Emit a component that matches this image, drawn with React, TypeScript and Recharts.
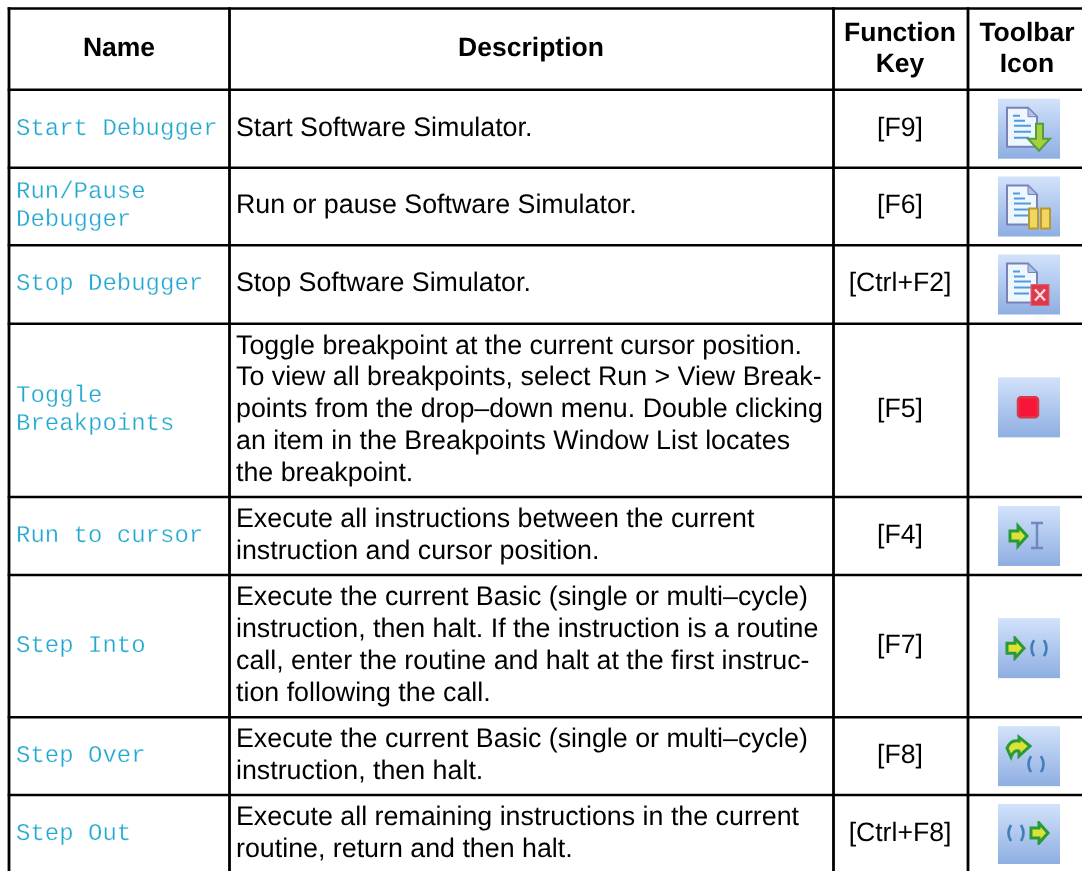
import { ComposedChart, ReferenceLine, Scatter, XAxis, YAxis } from "recharts"

const W = 1082
const H = 871

// column and row borders
const columnEdges = [9, 229.5, 833.5, 968]
const rowEdges = [8.5, 89.7, 167.7, 245.3, 323.7, 497, 575, 717.3, 795, 873]

const headers = [["Name"], ["Description"], ["Function", "Key"], ["Toolbar", "Icon"]]
const headerCentres = [119, 531, 900, 1027]

const names = [
  ["Start Debugger"],
  ["Run/Pause", "Debugger"],
  ["Stop Debugger"],
  ["Toggle", "Breakpoints"],
  ["Run to cursor"],
  ["Step Into"],
  ["Step Over"],
  ["Step Out"],
]

const descriptions = [
  ["Start Software Simulator."],
  ["Run or pause Software Simulator."],
  ["Stop Software Simulator."],
  [
    "Toggle breakpoint at the current cursor position.",
    "To view all breakpoints, select Run > View Break-",
    "points from the drop\u2013down menu. Double clicking",
    "an item in the Breakpoints Window List locates",
    "the breakpoint.",
  ],
  ["Execute all instructions between the current", "instruction and cursor position."],
  [
    "Execute the current Basic (single or multi\u2013cycle)",
    "instruction, then halt. If the instruction is a routine",
    "call, enter the routine and halt at the first instruc-",
    "tion following the call.",
  ],
  ["Execute the current Basic (single or multi\u2013cycle)", "instruction, then halt."],
  ["Execute all remaining instructions in the current", "routine, return and then halt."],
]

const functionKeys = ["[F9]", "[F6]", "[Ctrl+F2]", "[F5]", "[F4]", "[F7]", "[F8]", "[Ctrl+F8]"]
const toolbarIcons = ["start", "pause", "stop", "breakpoint", "cursor", "into", "over", "out"]
const iconNudge = [0, 0, 0, -3, 0, 2, 0, 0]

const rowMiddle = (i: number) => (rowEdges[i] + rowEdges[i + 1]) / 2

const headerData = headers.map((lines, i) => ({ x: headerCentres[i], y: rowMiddle(0), lines }))
const nameData = names.map((lines, i) => ({ x: 16, y: rowMiddle(i + 1), lines }))
const descriptionData = descriptions.map((lines, i) => ({ x: 236, y: rowMiddle(i + 1), lines }))
const keyData = functionKeys.map((key, i) => ({ x: 900, y: rowMiddle(i + 1), lines: [key] }))
const iconData = toolbarIcons.map((kind, i) => ({ x: 1029, y: rowMiddle(i + 1) + iconNudge[i], kind }))

const SANS = "'Liberation Sans', Arial, sans-serif"
const MONO = "'Liberation Mono', 'Courier New', monospace"

function textBlock(style: {
  family: string
  size: number
  leading: number
  fill: string
  weight?: number
  anchor?: string
  shift?: number
  thin?: number
}) {
  return (props: any) => {
    const lines: string[] = props.payload.lines
    const first = props.cy - ((lines.length - 1) * style.leading) / 2 + style.size * 0.35 + (style.shift ?? 0)
    return (
      <text
        x={props.cx}
        y={first}
        fontFamily={style.family}
        fontSize={style.size}
        fontWeight={style.weight ?? 400}
        fill={style.fill}
        stroke={style.thin ? "#fff" : "none"}
        strokeWidth={style.thin ?? 0}
        textAnchor={style.anchor ?? "start"}
        textRendering="geometricPrecision"
      >
        {lines.map((line, i) => (
          <tspan key={i} x={props.cx} y={first + i * style.leading}>
            {line}
          </tspan>
        ))}
      </text>
    )
  }
}

const Doc = () => (
  <g>
    <path d="M9 9 H30 L39 18 V48 H9 Z" fill="#eef6fe" stroke="#7a80b8" strokeWidth={2} />
    <path d="M30 9 V18 H39 Z" fill="#a8c4ec" stroke="#7a80b8" strokeWidth={1} />
    <path d="M15 17 H22 M16 22 H27 M16 27 H33 M16 33 H33 M16 39 H31" stroke="#4f9ae0" strokeWidth={2} />
  </g>
)

const ArrowRight = ({ x, y }: { x: number; y: number }) => (
  <path
    transform={`translate(${x} ${y})`}
    d="M0 -5 H8 V-10 L17 0 L8 10 V5 H0 Z"
    fill="#dce238"
    stroke="#2c9a38"
    strokeWidth={3}
  />
)

const Parens = ({ x, y }: { x: number; y: number }) => (
  <g transform={`translate(${x} ${y})`} fill="none" stroke="#3f7fb8" strokeWidth={2.6}>
    <path d="M-5 -8 Q-10 0 -5 8" />
    <path d="M5 -8 Q10 0 5 8" />
  </g>
)

function IconGlyph({ kind }: { kind: string }) {
  if (kind === "start")
    return (
      <g>
        <Doc />
        <path d="M38 25 H45 V40 H52 L41 52 L30 40 H38 Z" fill="#a8d038" stroke="#4f9e48" strokeWidth={2} />
      </g>
    )
  if (kind === "pause")
    return (
      <g>
        <Doc />
        <rect x={31} y={32} width={9} height={20} fill="#f0d860" stroke="#b89830" strokeWidth={2} />
        <rect x={43} y={32} width={9} height={20} fill="#f0d860" stroke="#b89830" strokeWidth={2} />
      </g>
    )
  if (kind === "stop")
    return (
      <g>
        <Doc />
        <rect x={33} y={30} width={18} height={21} fill="#e0384c" stroke="#d86070" strokeWidth={1} />
        <path d="M37 35 L47 46 M47 35 L37 46" stroke="#f8d8dc" strokeWidth={2.5} />
      </g>
    )
  if (kind === "breakpoint")
    return <rect x={20} y={20} width={20} height={20} rx={3} fill="#f81838" stroke="#d83848" strokeWidth={2.5} />
  if (kind === "cursor")
    return (
      <g>
        <ArrowRight x={12} y={30} />
        <path d="M33 17 H45 M33 42 H45 M39 17 V42" stroke="#6f88c0" strokeWidth={2.5} fill="none" />
      </g>
    )
  if (kind === "into")
    return (
      <g>
        <ArrowRight x={9} y={30} />
        <Parens x={41} y={30} />
      </g>
    )
  if (kind === "over")
    return (
      <g>
        <path
          d="M9 22 Q13 13 21 15 V11 L32 20 L21 30 V25 Q16 23 13 31 Z"
          fill="#dce238"
          stroke="#2c9a38"
          strokeWidth={3}
        />
        <Parens x={38} y={38} />
      </g>
    )
  return (
    <g>
      <Parens x={18} y={29} />
      <ArrowRight x={33} y={29} />
    </g>
  )
}

const IconShape = (props: any) => (
  <g transform={`translate(${props.cx - 31} ${props.cy - 30})`}>
    <rect width={62} height={60} fill="url(#iconBack)" />
    <g filter="url(#iconBlur)">
      <IconGlyph kind={props.payload.kind} />
    </g>
  </g>
)

export default function App() {
  return (
    <div style={{ position: "absolute", left: 0, top: 0, width: W, height: H, background: "#fff", overflow: "hidden", filter: "blur(0.35px)" }}>
      <ComposedChart width={W} height={H} margin={{ top: 0, right: 0, bottom: 0, left: 0 }}>
        <defs>
          <linearGradient id="iconBack" x1="0" y1="0" x2="0" y2="1">
            <stop offset="0%" stopColor="#d2e2fa" />
            <stop offset="100%" stopColor="#8eaee2" />
          </linearGradient>
          <filter id="iconBlur" x="-10%" y="-10%" width="120%" height="120%">
            <feGaussianBlur stdDeviation="0.7" />
          </filter>
        </defs>
        <XAxis type="number" dataKey="x" domain={[0, W]} hide allowDataOverflow />
        <YAxis type="number" dataKey="y" domain={[0, H]} reversed hide allowDataOverflow />
        {columnEdges.map((x) => (
          <ReferenceLine
            key={`c${x}`}
            segment={[{ x, y: 7.3 }, { x, y: H }]}
            stroke="#000"
            strokeWidth={2.8}
            ifOverflow="visible"
          />
        ))}
        {rowEdges.map((y) => (
          <ReferenceLine
            key={`r${y}`}
            segment={[{ x: 7.7, y }, { x: W, y }]}
            stroke="#000"
            strokeWidth={2.6}
            ifOverflow="visible"
          />
        ))}
        <Scatter
          data={headerData}
          isAnimationActive={false}
          shape={textBlock({ family: SANS, size: 26.5, leading: 31, fill: "#000", weight: 700, anchor: "middle", shift: -2 })}
        />
        <Scatter
          data={nameData}
          isAnimationActive={false}
          shape={textBlock({ family: MONO, size: 24, leading: 28, fill: "#22a8d0", shift: -2.5, thin: 0.3 })}
        />
        <Scatter
          data={descriptionData}
          isAnimationActive={false}
          shape={textBlock({ family: SANS, size: 26.8, leading: 31.8, fill: "#000", shift: -2.5 })}
        />
        <Scatter
          data={keyData}
          isAnimationActive={false}
          shape={textBlock({ family: SANS, size: 26.6, leading: 31, fill: "#000", anchor: "middle", shift: -2.5 })}
        />
        <Scatter data={iconData} isAnimationActive={false} shape={IconShape} />
      </ComposedChart>
    </div>
  )
}
